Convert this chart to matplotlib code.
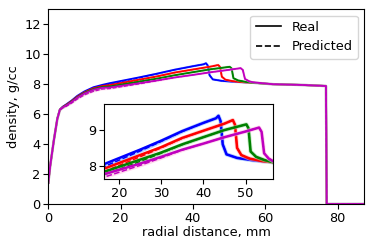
import matplotlib
matplotlib.use("Agg")
import matplotlib.pyplot as plt
from matplotlib.lines import Line2D

# ---- data (radial distance mm, density g/cc) ----
early_x = [0, 0.5, 1.5, 2.5, 3.2, 4, 5, 6.5, 8, 10, 12.5, 15]

blue_x = early_x + [17, 25, 30, 35, 40, 43, 43.6, 44.1, 44.6, 45.5, 48, 52, 56.5, 62, 70, 76.8, 77.0, 87.4]
blue_y = [1.4, 2.5, 4.2, 5.7, 6.3, 6.5, 6.66, 6.92, 7.22, 7.52, 7.8, 7.96,
          8.07, 8.45, 8.7, 8.97, 9.2, 9.33, 9.4, 9.25, 8.6, 8.32, 8.22, 8.15, 8.1, 8.0, 7.95, 7.88, 0, 0]

red_x = early_x + [17, 25, 30, 35, 40, 45, 47, 47.5, 48.0, 49, 51, 54, 56.5, 62, 70, 76.8, 77.0, 87.4]
red_y = [1.4, 2.5, 4.2, 5.7, 6.3, 6.48, 6.63, 6.88, 7.17, 7.46, 7.73, 7.88,
         7.94, 8.3, 8.52, 8.78, 8.98, 9.18, 9.28, 9.15, 8.5, 8.3, 8.2, 8.13, 8.1, 8.0, 7.95, 7.88, 0, 0]

green_x = early_x + [17, 25, 30, 35, 40, 45, 50.2, 50.7, 51.2, 52.5, 54.5, 56.5, 62, 70, 76.8, 77.0, 87.4]
green_y = [1.4, 2.5, 4.2, 5.7, 6.3, 6.46, 6.6, 6.85, 7.13, 7.42, 7.68, 7.82,
           7.85, 8.17, 8.37, 8.6, 8.8, 9.0, 9.16, 9.05, 8.4, 8.25, 8.16, 8.1, 8.0, 7.95, 7.88, 0, 0]

magenta_x = early_x + [17, 25, 30, 35, 40, 45, 50, 53.2, 53.8, 54.4, 55.5, 56.5, 62, 70, 76.8, 77.0, 87.4]
magenta_y = [1.4, 2.5, 4.2, 5.7, 6.3, 6.45, 6.58, 6.82, 7.1, 7.38, 7.63, 7.76,
             7.78, 8.06, 8.25, 8.45, 8.62, 8.8, 8.96, 9.07, 8.95, 8.35, 8.2, 8.13, 8.0, 7.95, 7.88, 0, 0]

# predicted profiles (slightly lower at small radius)
pblue_y = [1.4, 2.5, 4.2, 5.68, 6.27, 6.46, 6.6, 6.84, 7.13, 7.42, 7.7, 7.88,
           8.0, 8.41, 8.68, 8.96, 9.2, 9.33, 9.4, 9.25, 8.6, 8.32, 8.22, 8.15, 8.1, 8.0, 7.95, 7.88, 0, 0]
pred_y = [1.4, 2.5, 4.2, 5.68, 6.27, 6.44, 6.57, 6.8, 7.08, 7.36, 7.62, 7.78,
          7.86, 8.25, 8.5, 8.77, 8.98, 9.18, 9.28, 9.15, 8.5, 8.3, 8.2, 8.13, 8.1, 8.0, 7.95, 7.88, 0, 0]
pgreen_y = [1.4, 2.5, 4.2, 5.68, 6.27, 6.42, 6.55, 6.77, 7.04, 7.32, 7.58, 7.73,
            7.77, 8.12, 8.35, 8.59, 8.8, 9.0, 9.16, 9.05, 8.4, 8.25, 8.16, 8.1, 8.0, 7.95, 7.88, 0, 0]
pmagenta_y = [1.4, 2.5, 4.2, 5.68, 6.27, 6.41, 6.52, 6.74, 7.0, 7.28, 7.52, 7.67,
              7.7, 8.01, 8.22, 8.44, 8.62, 8.8, 8.96, 9.07, 8.95, 8.35, 8.2, 8.13, 8.0, 7.95, 7.88, 0, 0]

series = [
    (blue_x, blue_y, pblue_y, "blue", "#8ab8ff"),
    (red_x, red_y, pred_y, "red", "#ffb0b0"),
    (green_x, green_y, pgreen_y, "green", "#a0dca0"),
    (magenta_x, magenta_y, pmagenta_y, "m", "#ffc0e4"),
]

FS = 9.3
fig = plt.figure(figsize=(3.74, 2.49), dpi=100)
ax = fig.add_axes([48.3 / 374, 45 / 249, 316 / 374, 194.7 / 249])
ins = fig.add_axes([104 / 374, 70 / 249, 169 / 374, 75 / 249])

for a, lw, hw in ((ax, 1.3, 1.8), (ins, 1.8, 3.0)):
    for x, y, py, c, lc in series:
        a.plot(x, py, color=lc, lw=hw, alpha=0.6, solid_capstyle="butt")
        a.plot(x, py, color=c, lw=lw * 0.6, ls="--")
        a.plot(x, y, color=c, lw=lw)

ax.set_xlim(0, 87.4)
ax.set_ylim(0, 13)
ax.set_xticks([0, 20, 40, 60, 80])
ax.set_yticks([0, 2, 4, 6, 8, 10, 12])
ax.set_xlabel("radial distance, mm", fontsize=FS, labelpad=1)
ax.set_ylabel("density, g/cc", fontsize=FS, labelpad=3)
ax.tick_params(labelsize=FS, pad=2)

ins.set_xlim(16.5, 56.5)
ins.set_ylim(7.63, 9.73)
ins.set_xticks([20, 30, 40, 50])
ins.set_yticks([8, 9])
ins.tick_params(labelsize=FS, pad=2)

handles = [Line2D([], [], color="black", lw=1.2, ls="-"),
           Line2D([], [], color="black", lw=1.2, ls="--")]
ax.legend(handles, ["Real", "Predicted"], loc="upper right", fontsize=FS)

fig.savefig("out.png", dpi=100)
